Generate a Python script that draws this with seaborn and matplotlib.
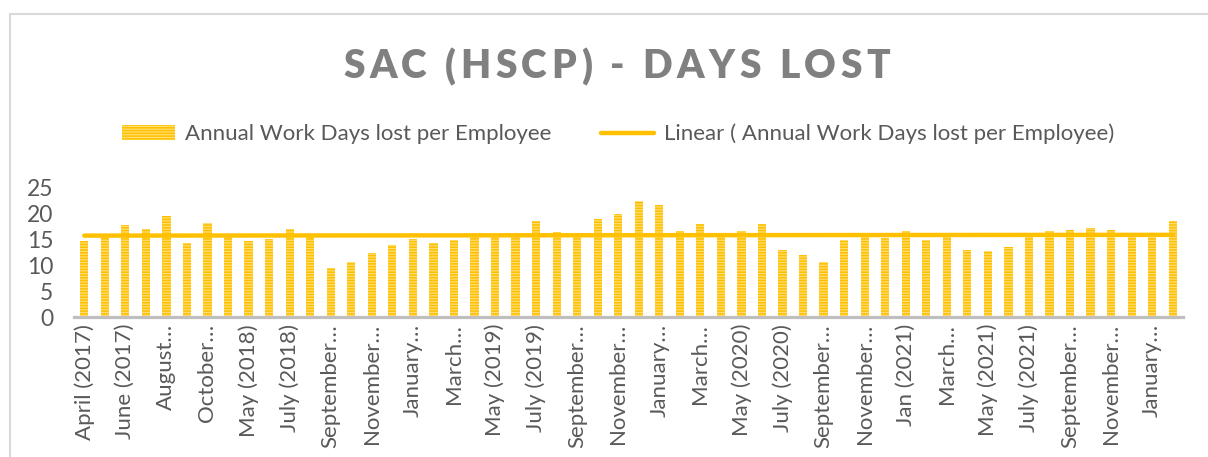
import numpy as np
import matplotlib
matplotlib.use("Agg")
import matplotlib.pyplot as plt
import matplotlib.patches as mpatches
from matplotlib.lines import Line2D
from matplotlib.font_manager import FontProperties
import pandas as pd
import seaborn as sns

# months in the chart (one bar each)
months = ["April (2017)", "May (2017)", "June (2017)", "July (2017)", "August (2017)",
          "September (2017)", "October (2017)", "November (2017)",
          "May (2018)", "June (2018)", "July (2018)", "August (2018)", "September (2018)",
          "October (2018)", "November (2018)", "December (2018)", "January (2019)",
          "February (2019)", "March (2019)", "April (2019)", "May (2019)", "June (2019)",
          "July (2019)", "August (2019)", "September (2019)", "October (2019)",
          "November (2019)", "December (2019)", "January (2020)", "February (2020)",
          "March (2020)", "April (2020)", "May (2020)", "June (2020)", "July (2020)",
          "August (2020)", "September (2020)", "October (2020)", "November (2020)",
          "December (2020)", "Jan (2021)", "February (2021)", "March (2021)",
          "April (2021)", "May (2021)", "June (2021)", "July (2021)", "August (2021)",
          "September (2021)", "October (2021)", "November (2021)", "December (2021)",
          "January (2022)", "February (2022)"]

days_lost = [14.6, 15.9, 17.6, 16.9, 19.5, 14.2, 18.0, 15.8, 14.6, 15.0,
             17.0, 15.6, 9.4, 10.6, 12.3, 13.9, 15.0, 14.2, 14.9, 15.7,
             15.7, 15.7, 18.4, 16.3, 15.7, 18.9, 19.9, 22.3, 21.5, 16.5,
             17.8, 15.7, 16.5, 17.8, 12.9, 11.9, 10.6, 14.9, 15.7, 15.1,
             16.5, 14.9, 15.7, 12.8, 12.7, 13.5, 15.7, 16.5, 16.7, 17.2,
             16.7, 15.7, 15.7, 18.4]

# every second month is labelled, long names cut off as in Excel
tick_labels = ["April (2017)", "June (2017)", "August…", "October…", "May (2018)",
               "July (2018)", "September…", "November…", "January…", "March…",
               "May (2019)", "July (2019)", "September…", "November…", "January…",
               "March…", "May (2020)", "July (2020)", "September…", "November…",
               "Jan (2021)", "March…", "May (2021)", "July (2021)", "September…",
               "November…", "January…"]

series_name = "Annual Work Days lost per Employee"
title = "SAC (HSCP) - DAYS LOST"

gold = "#FFC000"
stripe = "#FFDD70"
grey_txt = "#595959"

sns.set_style("white")
plt.rcParams['font.family'] = ['Lato', 'DejaVu Sans']
plt.rcParams['hatch.linewidth'] = 0.9

df = pd.DataFrame({"month": months, "days": days_lost})

fig = plt.figure(figsize=(12.08, 4.57), dpi=100)
ax = fig.add_axes([74 / 1208, 1 - 317 / 457, (1183 - 74) / 1208, 130 / 457])

sns.barplot(data=df, x="month", y="days", order=months, color=gold, saturation=1,
            width=0.4, hatch="------", edgecolor=stripe, linewidth=0, ax=ax)

# linear trendline, as Excel draws it
xs = np.arange(len(days_lost))
slope, icpt = np.polyfit(xs, days_lost, 1)
ax.plot(xs, slope * xs + icpt, color=gold, lw=3.2, solid_capstyle="round", zorder=5)

ax.set_xlim(-0.5, len(months) - 0.5)
ax.set_ylim(0, 25)
ax.set_yticks([0, 5, 10, 15, 20, 25])
ax.set_xticks(range(0, len(months), 2))
ax.set_xticklabels(tick_labels, rotation=90, fontsize=16, color=grey_txt)
ax.tick_params(axis="x", length=0, pad=5)
ax.tick_params(axis="y", length=0, pad=15, labelsize=16.5, labelcolor=grey_txt)
ax.set_xlabel("")
ax.set_ylabel("")
for side in ["top", "left", "right"]:
    ax.spines[side].set_visible(False)
ax.spines["bottom"].set_color("#BFBFBF")
ax.spines["bottom"].set_linewidth(2.3)

# title with wide letter spacing: place each character by hand
fp = FontProperties(family=['Lato', 'DejaVu Sans'], weight='heavy', size=28)
rend = fig.canvas.get_renderer()
bar_w = rend.get_text_width_height_descent("||", fp, ismath=False)[0]
char_w = [rend.get_text_width_height_descent("|" + c + "|", fp, ismath=False)[0] - bar_w
          for c in title]
target_w = 547.0
track = (target_w - sum(char_w)) / (len(title) - 1)
x0 = 343.0
for c, w in zip(title, char_w):
    fig.text(x0 / 1208, 1 - 67 / 457, c, ha="left", va="center",
             fontproperties=fp, color="#808080")
    x0 += w + track

handles = [mpatches.Patch(facecolor=gold, edgecolor=stripe, hatch="------", linewidth=0),
           Line2D([0], [0], color=gold, lw=3.2)]
fig.legend(handles, [series_name, "Linear ( " + series_name + ")"],
           loc="center", bbox_to_anchor=(618 / 1208, 1 - 134 / 457), ncol=2,
           frameon=False, fontsize=16, labelcolor=grey_txt, handlelength=2.4,
           handletextpad=0.45, columnspacing=2.2)

# outer chart border (only top and left visible in the crop)
fig.add_artist(mpatches.Rectangle((10 / 1208, -0.05), 1.2, 1.05 - 14 / 457,
                                  transform=fig.transFigure, fill=False,
                                  edgecolor="#D9D9D9", lw=1.5))

fig.savefig("out.png", dpi=100)
